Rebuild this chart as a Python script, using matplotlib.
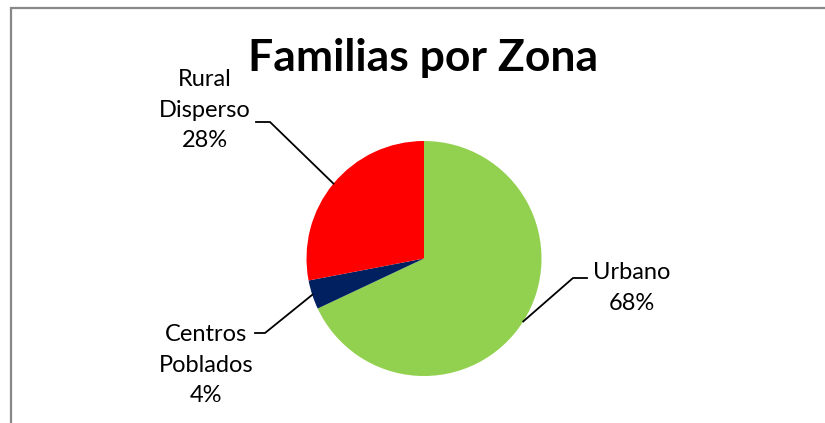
import matplotlib.pyplot as plt
import numpy as np
from matplotlib.patches import Rectangle

# data
zonas = ['Urbano', 'Centros\nPoblados', 'Rural\nDisperso']
familias = [68, 4, 28]
colores = ['#92D050', '#002060', '#FF0000']

W, H = 825, 423
fig = plt.figure(figsize=(W / 100, H / 100), dpi=100)
ax = fig.add_axes([0, 0, 1, 1])

# chart frame (cut off at right/bottom like the source)
fig.patches.append(Rectangle((11 / W, -0.1), 1.1, (H - 8) / H + 0.1,
                             transform=fig.transFigure, fill=False,
                             edgecolor='#888888', lw=1.6))

cx, cy, r = 424, H - 258.5, 117.5
wedges, _ = ax.pie(familias, colors=colores, startangle=90, counterclock=False,
                   center=(cx, cy), radius=r, frame=True)
ax.set_xlim(0, W)
ax.set_ylim(0, H)
ax.set_aspect('equal')
ax.axis('off')

plt.rcParams['font.family'] = ['Lato', 'DejaVu Sans']

ax.text(cx - 1, H - 58, 'Familias por Zona', ha='center', va='center',
        fontsize=32, fontweight='bold')

# label layout: (elbow x, elbow y, end x, text x, text y)
layout = [
    (573, H - 278, 587, 632, H - 288),
    (265, H - 333, 255, 206, H - 365),
    (270, H - 122, 256, 205, H - 110),
]

for w, nombre, val, (ex, ey, hx, tx, ty) in zip(wedges, zonas, familias, layout):
    ang = np.deg2rad((w.theta1 + w.theta2) / 2)
    px, py = cx + r * np.cos(ang), cy + r * np.sin(ang)
    ax.plot([px, ex, hx], [py, ey, ey], color='black', lw=1.3)
    ax.text(tx, ty, f'{nombre}\n{val}%', ha='center', va='center',
            fontsize=17, linespacing=1.55)

fig.savefig('out.png', dpi=100)
